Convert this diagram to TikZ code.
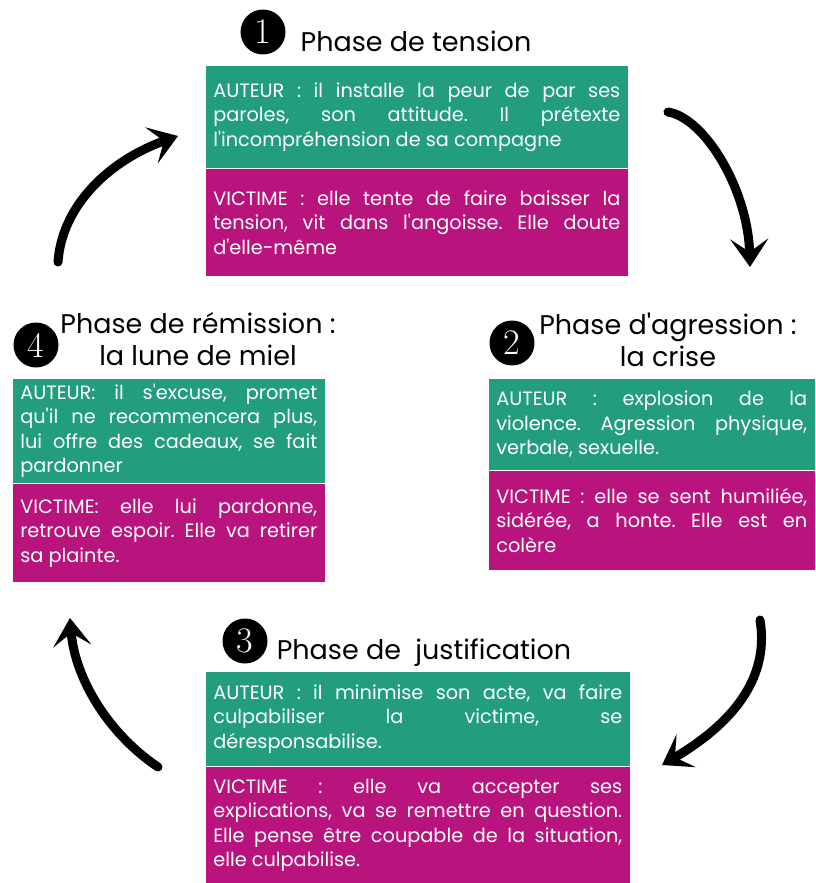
\documentclass[tikz,border=0pt]{standalone}
\usepackage{fontspec}
\newfontfamily\poppins{Poppins}
\usetikzlibrary{arrows.meta, positioning}
\definecolor{auteurgreen}{RGB}{34,157,126}
\definecolor{victimepink}{RGB}{185,20,125}

\tikzset{
  phase/.style={font=\poppins\fontsize{27}{32}\selectfont, align=center, inner sep=0pt},
  num/.style={circle, fill=black, text=white, minimum size=45pt, inner sep=0pt,
    font=\fontsize{36}{36}\selectfont},
  box/.style={anchor=north west, text=white, draw=white, line width=.6pt,
    inner xsep=8pt, inner ysep=0pt, align=justify,
    font=\poppins\frenchspacing\fontsize{19.3}{24.5}\selectfont},
  auteur/.style={box, fill=auteurgreen},
  victime/.style={box, fill=victimepink},
  cycle/.style={line width=9pt, line cap=round,
    -{Stealth[length=28pt, width=38pt, inset=13pt]}}
}

\begin{document}
\begin{tikzpicture}[x=1pt, y=-1pt]
    \useasboundingbox (0,0) rectangle (815,883);

    % phase 1
    \node[num] (n1) at (263,32) {1};
    \node[phase, anchor=base] (t1) at (416,52) {Phase de tension};
    \node[auteur, text width=407pt, minimum height=103pt] (a1) at (205,65)
      {AUTEUR : il installe la peur de par ses\linebreak paroles, son attitude. Il prétexte\linebreak l'incompréhension de sa compagne};
    \node[victime, text width=407pt, minimum height=108pt] (v1) at (205,168)
      {VICTIME : elle tente de faire baisser la\linebreak tension, vit dans l'angoisse. Elle doute\linebreak d'elle-même};

    % phase 2
    \node[num] (n2) at (512,343) {2};
    \node[phase, anchor=north] (t2) at (668,313) {Phase d'agression :\\la crise};
    \node[auteur, text width=311pt, minimum height=92pt] (a2) at (488,378)
      {AUTEUR : explosion de la\linebreak violence. Agression physique,\linebreak verbale, sexuelle.};
    \node[victime, text width=311pt, minimum height=100pt] (v2) at (488,470)
      {VICTIME : elle se sent humiliée,\linebreak sidérée, a honte. Elle est en\linebreak colère};

    % phase 3
    \node[num] (n3) at (245,641) {3};
    \node[phase, anchor=base] (t3) at (424,659) {Phase de~ justification};
    \node[auteur, text width=409pt, minimum height=95pt] (a3) at (205,671)
      {AUTEUR : il minimise son acte, va faire\linebreak culpabiliser la victime, se\linebreak déresponsabilise.};
    \node[victime, text width=409pt, minimum height=118pt] (v3) at (205,766)
      {VICTIME : elle va accepter ses\linebreak explications, va se remettre en question.\linebreak Elle pense être coupable de la situation,\linebreak elle culpabilise.};

    % phase 4
    \node[num] (n4) at (36,345) {4};
    \node[phase, anchor=north] (t4) at (198,312) {Phase de rémission :\\la lune de miel};
    \node[auteur, text width=297pt, minimum height=105pt] (a4) at (12,378)
      {AUTEUR: il s'excuse, promet\linebreak qu'il ne recommencera plus,\linebreak lui offre des cadeaux, se fait\linebreak pardonner};
    \node[victime, text width=297pt, minimum height=99pt] (v4) at (12,483)
      {VICTIME: elle lui pardonne,\linebreak retrouve espoir. Elle va retirer\linebreak sa plainte.};

    % the cycle
    \path (58,262) coordinate (s41);
    \path (178,136) coordinate (e41);
    \path (668,112) coordinate (s12);
    \path (750,267) coordinate (e12);
    \path (760,620) coordinate (s23);
    \path (662,765) coordinate (e23);
    \path (158,767) coordinate (s34);
    \path (70,618) coordinate (e34);

    \draw[cycle] (s41) .. controls (62,205) and (110,160) .. (e41);
    \draw[cycle] (s12) .. controls (705,118) and (748,190) .. (e12);
    \draw[cycle] (s23) .. controls (770,680) and (730,725) .. (e23);
    \draw[cycle] (s34) .. controls (110,735) and (75,680) .. (e34);
\end{tikzpicture}
\end{document}
